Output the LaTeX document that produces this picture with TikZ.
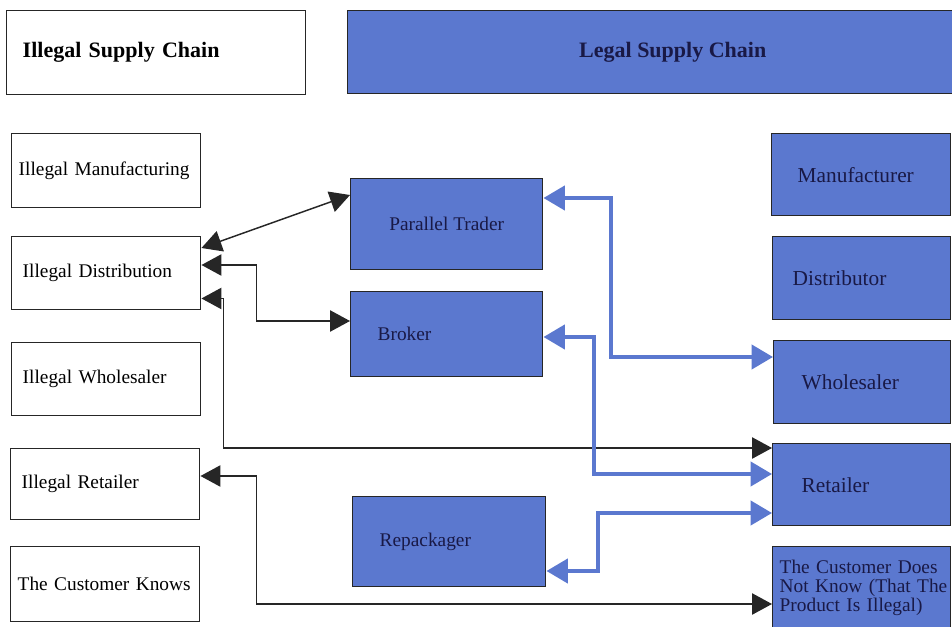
\documentclass[tikz,border=0pt]{standalone}
\usepackage{fontspec}
\setmainfont{Liberation Serif}
\usetikzlibrary{arrows.meta}
\usetikzlibrary{calc}
\definecolor{legalblue}{RGB}{91,120,207}
\definecolor{boxtext}{RGB}{25,25,70}
\newlength{\unitpx}
\setlength{\unitpx}{0.75pt}

\begin{document}
\begin{tikzpicture}[x=0.75pt,y=-0.75pt,line join=miter,>={Triangle[length=15pt,width=16pt]},
  illegal/.style={draw=black!85,line width=1.1pt,fill=white,anchor=north west,inner sep=0pt,align=left,font=\fontsize{14.5}{17}\selectfont},
  legal/.style={draw=black!85,line width=1.1pt,fill=legalblue,anchor=north west,inner sep=0pt,align=left,text=boxtext,font=\fontsize{14.5}{17}\selectfont},
  blk/.style={<->,line width=1.1pt,black!85},
  blu/.style={{Triangle[length=16pt,width=18pt]}-{Triangle[length=16pt,width=18pt]},line width=3pt,legalblue}]
\useasboundingbox (0,0) rectangle (952,627);

%otsikot
\node[illegal,minimum width=299\unitpx,minimum height=84\unitpx,text width=267\unitpx,font=\fontsize{16.5}{19}\selectfont\bfseries] (ihead) at (6,10) {Illegal Supply Chain};
\node[legal,minimum width=650\unitpx,minimum height=83\unitpx,align=center,font=\fontsize{16.5}{19}\selectfont\bfseries] (lhead) at (347,10) {Legal Supply Chain};

%laiton ketju
\node[illegal,minimum width=189\unitpx,minimum height=74\unitpx,text width=175\unitpx] (imanu) at (11,133) {Illegal Manufacturing};
\node[illegal,minimum width=189\unitpx,minimum height=73\unitpx,text width=167\unitpx] (idist) at (11,236) {Illegal Distribution};
\node[illegal,minimum width=189\unitpx,minimum height=73\unitpx,text width=167\unitpx] (iwhole) at (11,342) {Illegal Wholesaler};
\node[illegal,minimum width=189\unitpx,minimum height=71\unitpx,text width=167\unitpx] (iretail) at (10,448) {Illegal Retailer};
\node[illegal,minimum width=189\unitpx,minimum height=75\unitpx,text width=175\unitpx] (iknows) at (10,546) {The Customer Knows};

%valikasi
\node[legal,minimum width=192\unitpx,minimum height=91\unitpx,align=center] (ptrader) at (350,178) {Parallel Trader};
\node[legal,minimum width=192\unitpx,minimum height=85\unitpx,text width=138\unitpx] (broker) at (350,291) {Broker};
\node[legal,minimum width=193\unitpx,minimum height=90\unitpx,text width=139\unitpx] (repack) at (352,496) {Repackager};

%laillinen ketju
\node[legal,minimum width=179\unitpx,minimum height=82\unitpx,text width=127\unitpx,font=\fontsize{16}{19}\selectfont] (lmanu) at (771,133) {Manufacturer};
\node[legal,minimum width=178\unitpx,minimum height=83\unitpx,text width=138\unitpx,font=\fontsize{16}{19}\selectfont] (ldist) at (772,236) {Distributor};
\node[legal,minimum width=177\unitpx,minimum height=83\unitpx,text width=121\unitpx,font=\fontsize{16}{19}\selectfont] (lwhole) at (773,340) {Wholesaler};
\node[legal,minimum width=178\unitpx,minimum height=82\unitpx,text width=120\unitpx,font=\fontsize{16}{19}\selectfont] (lretail) at (772,443) {Retailer};
\node[legal,minimum width=178\unitpx,minimum height=97\unitpx,text width=164\unitpx,font=\fontsize{14.5}{14.25}\selectfont] (lnotknow) at (772,546) {\mbox{The Customer Does}\\\mbox{Not Know (That The}\\\mbox{Product Is Illegal)}\\\mbox{}};

%mustat nuolet
\draw[blk] ($(idist.north east)+(0,12)$) -- ($(ptrader.north west)+(0,17)$);
\draw[blk] ($(idist.north east)+(0,29)$) -- ++(55,0) |- ($(broker.north west)+(0,30)$);
\draw[blk] ($(idist.south east)+(0,-12)$) -- ++(22,0) |- ($(lretail.north west)+(0,5)$);
\draw[blk] ($(iretail.north east)+(0,28)$) -- ++(56,0) |- ($(lnotknow.north west)+(0,58)$);

%siniset nuolet
\draw[blu] ($(ptrader.north east)+(0,20)$) -- ++(68,0) |- ($(lwhole.north west)+(0,17)$);
\draw[blu] ($(broker.north east)+(0,46)$) -- ++(51,0) |- ($(lretail.north west)+(0,31)$);
\draw[blu] ($(repack.north east)+(0,75)$) -- ++(52,0) |- ($(lretail.north west)+(0,70)$);
\end{tikzpicture}
\end{document}
